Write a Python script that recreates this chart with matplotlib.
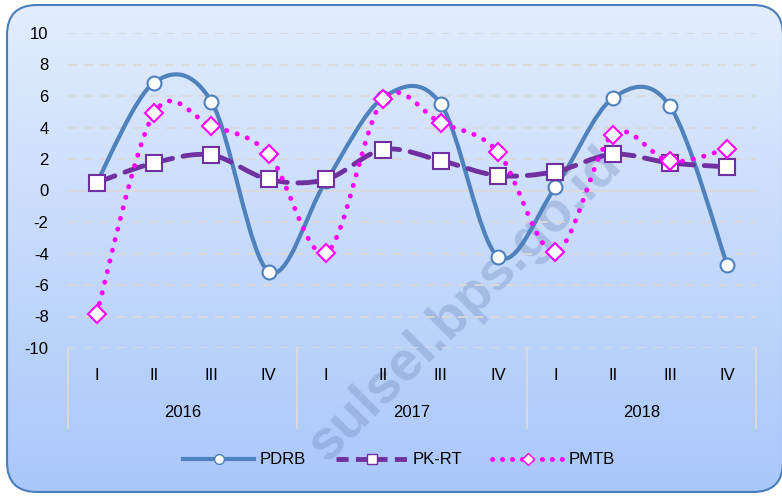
import numpy as np
import matplotlib.pyplot as plt
from matplotlib.path import Path
from matplotlib.patches import PathPatch, FancyBboxPatch
from matplotlib.lines import Line2D

plt.rcParams['font.family'] = ['Liberation Sans', 'DejaVu Sans']
plt.rcParams['axes.unicode_minus'] = False

quarters = ['I', 'II', 'III', 'IV'] * 3
years = ['2016', '2017', '2018']
pdrb = [0.5, 6.85, 5.65, -5.15, 0.6, 5.9, 5.5, -4.2, 0.2, 5.85, 5.35, -4.75]
pkrt = [0.5, 1.75, 2.25, 0.7, 0.7, 2.6, 1.9, 0.95, 1.2, 2.3, 1.75, 1.5]
pmtb = [-7.85, 4.9, 4.1, 2.3, -3.95, 5.8, 4.3, 2.45, -3.9, 3.55, 1.85, 2.65]


def smooth_path(ys):
    # excel-like smoothed line as cubic bezier segments
    xs = np.arange(len(ys), dtype=float)
    ys = np.asarray(ys, dtype=float)
    n = len(ys)
    verts = [(xs[0], ys[0])]
    codes = [Path.MOVETO]
    for i in range(n - 1):
        p0 = max(i - 1, 0)
        p3 = min(i + 2, n - 1)
        c1 = (xs[i] + (xs[i + 1] - xs[p0]) / 6, ys[i] + (ys[i + 1] - ys[p0]) / 6)
        c2 = (xs[i + 1] - (xs[p3] - xs[i]) / 6, ys[i + 1] - (ys[p3] - ys[i]) / 6)
        verts += [c1, c2, (xs[i + 1], ys[i + 1])]
        codes += [Path.CURVE4] * 3
    return Path(verts, codes)


fig = plt.figure(figsize=(7.82, 4.97), dpi=100)

# background with gradient and rounded border
bg = fig.add_axes([0, 0, 1, 1], zorder=-10)
bg.set_xlim(0, 782)
bg.set_ylim(497, 0)
bg.axis('off')
grad = np.linspace(0, 1, 256)[:, None]
c_top = np.array([0.89, 0.93, 0.99])
c_bot = np.array([0.66, 0.78, 0.98])
img = c_top + (c_bot - c_top) * grad[:, :, None]
box = FancyBboxPatch((7, 5), 776, 487, boxstyle='round,pad=0,rounding_size=30',
                     facecolor='none', edgecolor='#4a7ebb', linewidth=1.5)
bg.add_patch(box)
im = bg.imshow(img, extent=[0, 782, 497, 0], aspect='auto')
im.set_clip_path(box)

# watermark, behind the lines
fig.text(0.595, 0.385, 'sulsel.bps.go.id', fontsize=40, fontweight='bold', color='#6f88b8',
         alpha=0.35, rotation=45, ha='center', va='center', zorder=-5)

ax = fig.add_axes([68 / 782, 1 - 348 / 497, 688 / 782, 315 / 497])
ax.patch.set_alpha(0)
x = np.arange(len(pdrb))
ax.set_xlim(-0.5, len(pdrb) - 0.5)
ax.set_ylim(-10, 10)
ax.set_yticks(range(-10, 11, 2))
for v in range(-10, 11, 2):
    if v == 0:
        ax.axhline(v, color='#d9d9d9', lw=1.5, zorder=0)
    else:
        ax.axhline(v, color='#d9d9d9', lw=1.3, ls=(0, (5, 4)), zorder=0)
for s in ax.spines.values():
    s.set_visible(False)
ax.set_xticks([])
ax.tick_params(axis='y', length=0, pad=14, labelsize=12)

# lines
ax.add_patch(PathPatch(smooth_path(pdrb), fill=False, edgecolor='#4f81bd', lw=3, zorder=2))
ax.plot(x, pdrb, ls='none', marker='o', ms=10, mfc='white', mec='#4f81bd', mew=1.5, zorder=3)

ax.add_patch(PathPatch(smooth_path(pkrt), fill=False, edgecolor='#7030a0', lw=3.5,
                       ls=(0, (4, 2.2)), capstyle='round', zorder=4))
ax.plot(x, pkrt, ls='none', marker='s', ms=11, mfc='white', mec='#7030a0', mew=1.5, zorder=5)

ax.add_patch(PathPatch(smooth_path(pmtb), fill=False, edgecolor='#ff00ff', lw=3.5,
                       ls=(0, (0.05, 2.2)), capstyle='round', zorder=6))
ax.plot(x, pmtb, ls='none', marker='D', ms=9, mfc='white', mec='#ff00ff', mew=1.5, zorder=7)

# category axis
trans = ax.get_xaxis_transform()
for i, q in enumerate(quarters):
    ax.text(i, -0.086, q, transform=trans, ha='center', va='center', fontsize=12)
for j, yr in enumerate(years):
    ax.text(j * 4 + 1.5, -0.206, yr, transform=trans, ha='center', va='center', fontsize=12)
for b in [-0.5, 3.5, 7.5, 11.5]:
    ax.plot([b, b], [0, -0.255], transform=trans, color='#d9d9d9', lw=1.5, clip_on=False)

handles = [
    Line2D([], [], color='#4f81bd', lw=3, marker='o', ms=7, mfc='white', mec='#4f81bd'),
    Line2D([], [], color='#7030a0', lw=3.5, ls=(0, (2.5, 1.5)), marker='s', ms=7, mfc='white', mec='#7030a0'),
    Line2D([], [], color='#ff00ff', lw=3.5, ls=(0, (0.05, 2)), dash_capstyle='round',
           marker='D', ms=6, mfc='white', mec='#ff00ff'),
]
fig.legend(handles, ['PDRB', 'PK-RT', 'PMTB'], loc='center', bbox_to_anchor=(0.51, 1 - 460 / 497),
           ncol=3, frameon=False, fontsize=12, handlelength=4.3, columnspacing=1.8, handletextpad=0.3)

fig.savefig('out.png', dpi=100)
